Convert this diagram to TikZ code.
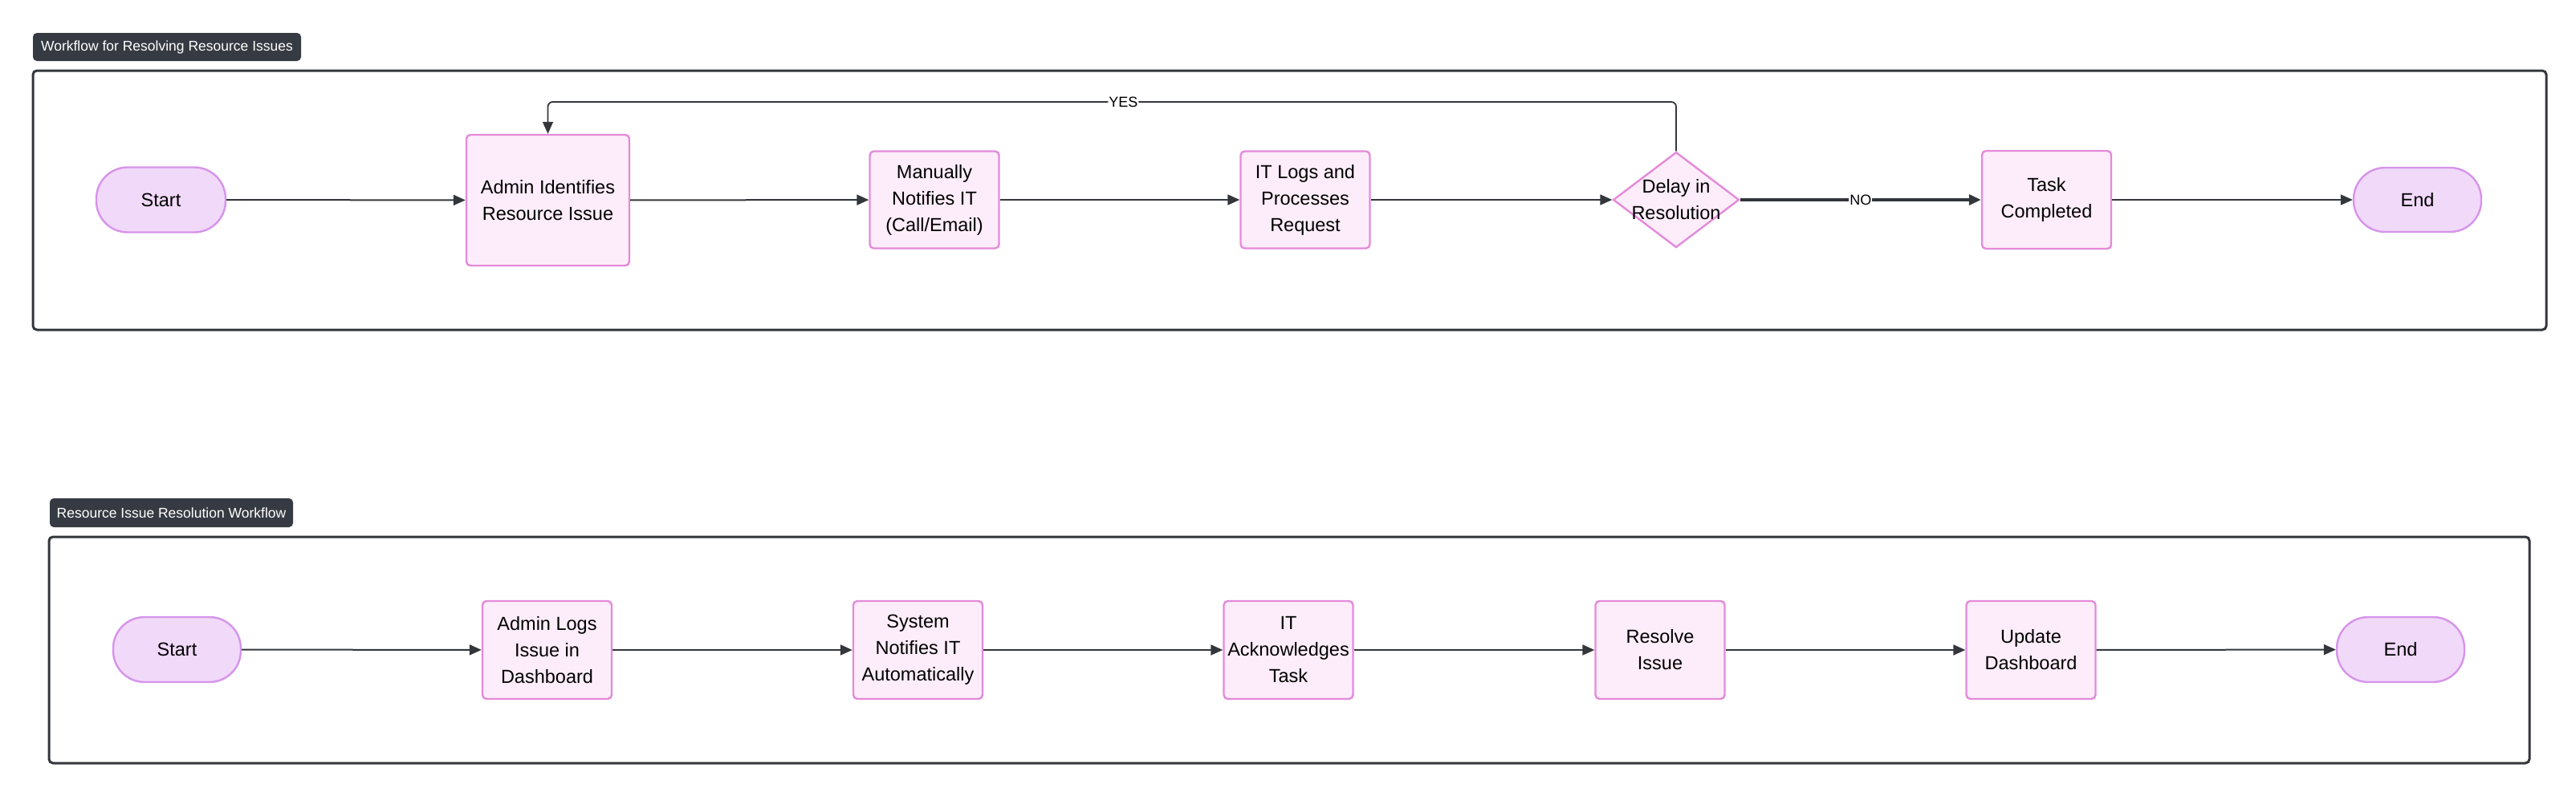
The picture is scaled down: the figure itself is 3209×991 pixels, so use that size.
\documentclass[tikz,border=0pt]{standalone}
\usepackage{fontspec}
\setmainfont{Liberation Sans}
\usetikzlibrary{shapes.geometric,arrows.meta}
\definecolor{boxfill}{HTML}{FDEDFA}
\definecolor{boxline}{HTML}{E48AD9}
\definecolor{pillfill}{HTML}{F1D9FA}
\definecolor{pillline}{HTML}{D694EA}
\definecolor{inkdark}{HTML}{33363B}
\definecolor{titlefill}{HTML}{363B43}
\tikzset{
  procbox/.style={draw=boxline, fill=boxfill, line width=2.4pt, rounded corners=5pt,
    align=center, inner sep=0pt, font=\fontsize{23.5}{33}\selectfont},
  pill/.style={draw=pillline, fill=pillfill, line width=2.4pt, rounded corners=39pt,
    align=center, inner sep=0pt, font=\fontsize{23.5}{33}\selectfont},
  decide/.style={draw=boxline, fill=boxfill, line width=2.4pt, diamond, inner sep=0pt},
  frame/.style={draw=inkdark, line width=3pt, rounded corners=5pt},
  titlebox/.style={fill=titlefill, rounded corners=5pt, text=white, inner sep=0pt,
    font=\fontsize{17.5}{20}\selectfont},
  flow/.style={draw=inkdark, line width=2pt, -{Triangle[length=15pt,width=13pt]}},
  edgelabel/.style={fill=white, inner sep=1pt, font=\fontsize{18}{20}\selectfont, text=black}
}
\begin{document}
\begin{tikzpicture}[x=1pt,y=-1pt]
\useasboundingbox (0,0) rectangle (3209,991);
\fill[white] (0,0) rectangle (3209,991);

% ---------- top workflow ----------
\node[titlebox, minimum width=334pt, minimum height=35pt] (title1) at (208,58.5) {Workflow for Resolving Resource Issues};
\draw[frame] (41,88) rectangle (3172,411);

\node[pill, minimum width=161pt, minimum height=81pt] (s1) at (200.5,249) {Start};
\node[procbox, minimum width=203pt, minimum height=163pt] (a1) at (682.5,249.5) {Admin Identifies\\Resource Issue};
\node[procbox, minimum width=161pt, minimum height=121pt] (m1) at (1164,249) {Manually\\Notifies IT\\(Call/Email)};
\node[procbox, minimum width=161pt, minimum height=121pt] (l1) at (1626,249) {IT Logs and\\Processes\\Request};
\node[decide, minimum width=157pt, minimum height=119pt] (d1) at (2088,249) {};
\node[align=center, inner sep=0pt, font=\fontsize{23.5}{33}\selectfont] (d1t) at (d1.center) {Delay in\\Resolution};
\node[procbox, minimum width=161pt, minimum height=122pt] (t1) at (2549.5,249) {Task\\Completed};
\node[pill, minimum width=159pt, minimum height=80pt] (e1) at (3011.5,249) {End};

\coordinate (yr) at (2088,127);
\coordinate (yl) at (682.5,127);

\draw[flow] (s1) -- (a1);
\draw[flow] (a1) -- (m1);
\draw[flow] (m1) -- (l1);
\draw[flow] (l1) -- (d1);
\draw[flow, line width=3.5pt] (d1) -- node[edgelabel] (nolab) {NO} (t1);
\draw[flow] (t1) -- (e1);
\draw[flow, line width=1.8pt, rounded corners=6pt] (d1.north) -- (yr) -- node[edgelabel, pos=0.49] (yeslab) {YES} (yl) -- (a1.north);

% ---------- bottom workflow ----------
\node[titlebox, minimum width=303pt, minimum height=36pt] (title2) at (213.5,639) {Resource Issue Resolution Workflow};
\draw[frame] (61,669) rectangle (3151,951);

\node[pill, minimum width=159pt, minimum height=81pt] (s2) at (220.5,809.5) {Start};
\node[procbox, minimum width=161pt, minimum height=122pt] (b1) at (681.5,810) {Admin Logs\\Issue in\\Dashboard};
\node[procbox, minimum width=161pt, minimum height=122pt] (b2) at (1143.5,810) {System\\Notifies IT\\Automatically};
\node[procbox, minimum width=161pt, minimum height=122pt] (b3) at (1605,810) {IT\\Acknowledges\\Task};
\node[procbox, minimum width=161pt, minimum height=122pt] (b4) at (2068,810) {Resolve\\Issue};
\node[procbox, minimum width=161pt, minimum height=122pt] (b5) at (2530,810) {Update\\Dashboard};
\node[pill, minimum width=159pt, minimum height=81pt] (e2) at (2990.5,809.5) {End};

\draw[flow] (s2) -- (b1);
\draw[flow] (b1) -- (b2);
\draw[flow] (b2) -- (b3);
\draw[flow] (b3) -- (b4);
\draw[flow] (b4) -- (b5);
\draw[flow] (b5) -- (e2);
\end{tikzpicture}
\end{document}
